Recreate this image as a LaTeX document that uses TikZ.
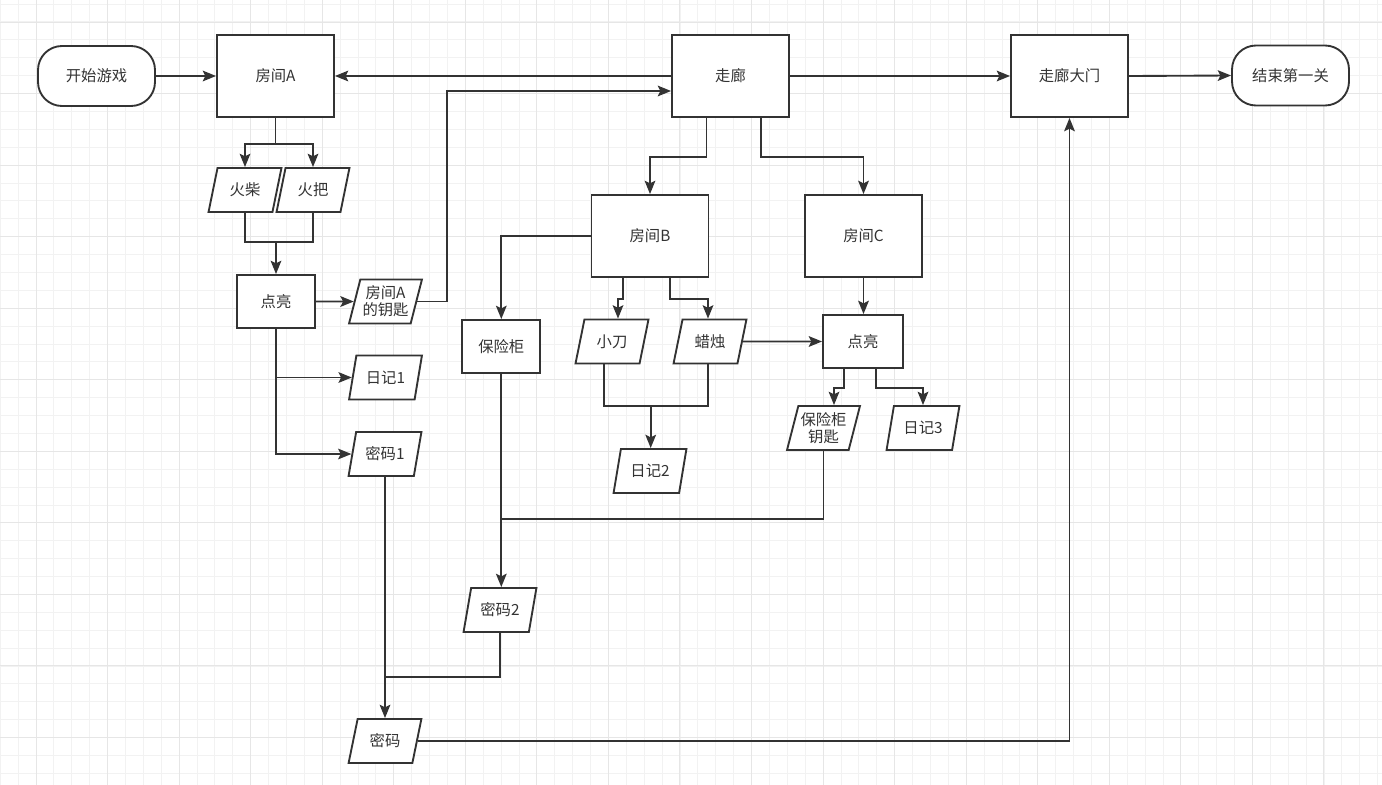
\documentclass[tikz,border=0pt]{standalone}
\usepackage{fontspec}
\setmainfont{Noto Sans CJK SC}
\usetikzlibrary{shapes.geometric,arrows.meta,calc}
\definecolor{ln}{HTML}{333333}
\definecolor{gminor}{HTML}{F2F2F2}
\definecolor{gmajor}{HTML}{E6E6E6}
\begin{document}
\begin{tikzpicture}[x=0.75pt,y=-0.75pt,
  every node/.style={font=\fontsize{11.5}{13.5}\selectfont, text=ln},
  box/.style={draw=ln, line width=1.4pt, fill=white, minimum width=87.75pt, minimum height=61.5pt, inner sep=1pt},
  sbox/.style={draw=ln, line width=1.4pt, fill=white, minimum width=58.5pt, minimum height=39.75pt, inner sep=1pt},
  term/.style={draw=ln, line width=1.4pt, fill=white, rounded corners=18pt, minimum width=87.75pt, minimum height=45pt, inner sep=1pt},
  para/.style={draw=ln, line width=1.4pt, fill=white, trapezium, trapezium left angle=72, trapezium right angle=108, trapezium stretches=true, minimum width=54.75pt, minimum height=33pt, inner sep=1pt, align=center},
  con/.style={draw=ln, line width=1.4pt},
  arr/.style={con, -{Stealth[length=10pt,width=8pt,inset=2pt]}}
]
\useasboundingbox (0,0) rectangle (1382,785);
\fill[white] (0,0) rectangle (1382,785);
% grid
\foreach \i in {0,...,77} \draw[gminor, line width=0.75pt] ({0.22+17.89*\i},0) -- ++(0,785);
\foreach \i in {0,...,43} \draw[gminor, line width=0.75pt] (0,{4.1+17.89*\i}) -- ++(1382,0);
\foreach \i in {0,...,18} \draw[gmajor, line width=0.75pt] ({36+71.55*\i},0) -- ++(0,785);
\foreach \i in {0,...,10} \draw[gmajor, line width=0.75pt] (0,{22+71.5*\i}) -- ++(1382,0);

% nodes
\node[term] (start) at (96.5,76) {开始游戏};
\node[box] (roomA) at (275.5,76) {房间A};
\node[box] (hall) at (730.5,76) {走廊};
\node[box] (gate) at (1069.5,76) {走廊大门};
\node[term] (end) at (1290.5,75.5) {结束第一关};
\node[para] (match) at (245,190) {火柴};
\node[para] (torch) at (313,190) {火把};
\node[sbox] (lightA) at (276,301.5) {点亮};
\node[para] (keyA) at (385.5,301.5) {房间A\\[-1pt]的钥匙};
\node[para] (diary1) at (385.5,377.5) {日记1};
\node[para] (code1) at (385,454) {密码1};
\node[box] (roomB) at (650,236) {房间B};
\node[box] (roomC) at (863.5,236) {房间C};
\node[sbox] (safe) at (501.3,346.5) {保险柜};
\node[para] (knife) at (612,341.5) {小刀};
\node[para] (candle) at (710,341.5) {蜡烛};
\node[para] (diary2) at (650,471) {日记2};
\node[sbox, minimum width=60pt] (lightC) at (863,341.5) {点亮};
\node[para] (safekey) at (823.5,428) {保险柜\\[-1pt]钥匙};
\node[para] (diary3) at (923,428) {日记3};
\node[para] (code2) at (500,610) {密码2};
\node[para] (code) at (385,741) {密码};

% connectors
\draw[arr] (start.east) -- (roomA.west);
\draw[arr] (hall.west) -- (roomA.east);
\draw[arr] (hall.east) -- (gate.west);
\draw[arr] (gate.east) -- (end.west);
\draw[arr] (roomA.south) -- ++(0,26) -| (match.north);
\draw[arr] (roomA.south) -- ++(0,26) -| (torch.north);
\coordinate (j1) at ($(lightA.north)+(0,-32)$);
\draw[con] (match.south) |- (j1) -| (torch.south);
\draw[arr] (j1) -- (lightA.north);
\draw[arr] (lightA.east) -- (keyA.west);
\draw[arr] (keyA.east) -- ++(30,0) |- ($(hall.west)+(0,15)$);
\draw[arr] (lightA.south) |- (diary1.west);
\draw[arr] (lightA.south) |- (code1.west);
\draw[arr] (code1.south) -- (code.north);
\draw[con] (code2.south) -- ++(0,44) coordinate (j4) -- (j4 -| code.north);
\draw[arr] (code.east) -| (gate.south);
\draw[arr] ($(hall.south)+(-24,0)$) -- ++(0,39) -| (roomB.north);
\draw[arr] ($(hall.south)+(30.5,0)$) -- ++(0,39) -| (roomC.north);
\draw[arr] (roomB.west) -| (safe.north);
\draw[arr] ($(roomB.south)+(-27,0)$) -- ++(0,21) -| ($(knife.north)+(6,0)$);
\draw[arr] ($(roomB.south)+(20,0)$) -- ++(0,21) -| ($(candle.north)+(-2,0)$);
\draw[arr] (candle.east) -- (lightC.west);
\draw[arr] (roomC.south) -- (roomC.south |- lightC.north);
\draw[arr] ($(lightC.south)+(-19,0)$) -- ++(0,19) -| ($(safekey.north)+(10.5,0)$);
\draw[arr] ($(lightC.south)+(13,0)$) -- ++(0,19) -| (diary3.north);
\coordinate (j2) at ($(diary2.north)+(0.7,-42)$);
\draw[con] ($(knife.south)+(-8,0)$) |- (j2) -| ($(candle.south)+(-2,0)$);
\draw[arr] (j2) -- (j2 |- diary2.north);
\draw[arr] (safe.south) -- (safe.south |- code2.north);
\draw[con] (safekey.south) -- ++(0,68) coordinate (j3) -- (j3 -| safe.south);
\end{tikzpicture}
\end{document}
